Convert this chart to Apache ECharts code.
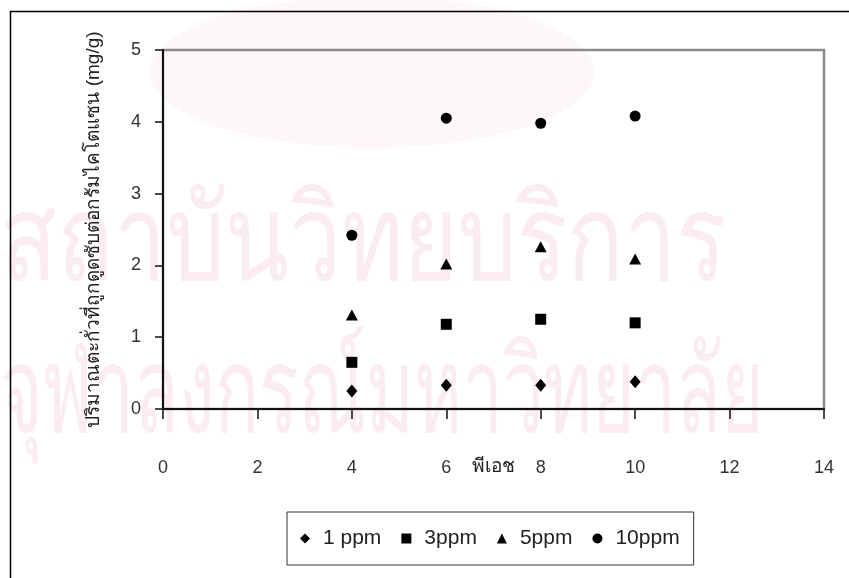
<!DOCTYPE html>
<html>
<head>
<meta charset="utf-8">
<script src="https://cdn.jsdelivr.net/npm/echarts@6/dist/echarts.min.js"></script>
<style>
  html, body { margin: 0; padding: 0; background: #fff; }
  #chart { width: 849px; height: 578px; }
</style>
</head>
<body>
<div id="chart"></div>
<script>
// pH of the solution and lead uptake (mg per g chitosan) at each initial concentration
const phValues = [4, 6, 8, 10];
const ppm1 = [0.25, 0.33, 0.33, 0.38];
const ppm3 = [0.65, 1.18, 1.25, 1.20];
const ppm5 = [1.31, 2.02, 2.26, 2.09];
const ppm10 = [2.42, 4.05, 3.98, 4.08];
const seriesNames = ['1 ppm', '3ppm', '5ppm', '10ppm'];

const FONT = "'Liberation Sans', 'Noto Sans', Arial, sans-serif";

const pairs = ys => phValues.map((x, i) => [x, ys[i]]);

const markerDefs = [
  { data: ppm1, symbol: 'diamond', size: [11, 13] },
  { data: ppm3, symbol: 'rect', size: 11 },
  { data: ppm5, symbol: 'triangle', size: [12, 11] },
  { data: ppm10, symbol: 'circle', size: 11 }
];

const chart = echarts.init(document.getElementById('chart'), null, { renderer: 'canvas' });

chart.setOption({
  backgroundColor: '#ffffff',
  animation: false,
  textStyle: { fontFamily: FONT },
  graphic: [
    // faint crest and institutional text behind the plot
    { type: 'ellipse', z: -20, shape: { cx: 372, cy: 72, rx: 222, ry: 76 },
      style: { fill: '#fdf8f7' } },
    { type: 'text', z: -19, x: 0, y: 186, scaleX: 0.78,
      style: { text: 'สถาบันวิทยบริการ', font: "120px 'Noto Sans', sans-serif", fill: '#fbecf1' } },
    { type: 'text', z: -19, x: 0, y: 338, scaleX: 0.61,
      style: { text: 'จุฬาลงกรณ์มหาวิทยาลัย', font: "120px 'Noto Sans', sans-serif", fill: '#fbecf1' } },
    // outer frame of the figure
    { type: 'rect', z: 5, shape: { x: 10.5, y: 11.5, width: 900, height: 700 },
      style: { fill: 'none', stroke: '#000', lineWidth: 1.5 } }
  ],
  grid: {
    left: 163, top: 50, right: 25, bottom: 169,
    show: true, borderColor: '#8a8a8a', borderWidth: 2.5, backgroundColor: 'transparent'
  },
  legend: {
    data: seriesNames,
    left: 287, top: 512,
    orient: 'horizontal',
    backgroundColor: '#fff',
    borderColor: '#333', borderWidth: 1,
    padding: [16, 14, 16, 13],
    itemGap: 20,
    itemWidth: 10, itemHeight: 10,
    textStyle: { fontSize: 21, color: '#222', fontFamily: FONT, padding: [0, 0, 0, 8] }
  },
  xAxis: {
    type: 'value',
    min: 0, max: 14, interval: 2,
    name: 'พีเอช',
    nameLocation: 'middle',
    nameGap: 48,
    nameMoveOverlap: false,
    nameTextStyle: { fontSize: 19, color: '#222', fontFamily: FONT },
    axisLine: { show: true, onZero: false, lineStyle: { color: '#111', width: 2 } },
    axisTick: { show: true, inside: false, length: 10, lineStyle: { color: '#111', width: 1.5 } },
    axisLabel: { fontSize: 18, color: '#333', margin: 50 },
    splitLine: { show: false }
  },
  yAxis: {
    type: 'value',
    min: 0, max: 5, interval: 1,
    name: 'ปริมาณตะกั่วที่ถูกดูดซับต่อกรัมไคโตแซน (mg/g)',
    nameLocation: 'middle',
    nameGap: 60,
    nameRotate: 90,
    nameMoveOverlap: false,
    nameTextStyle: { fontSize: 19, color: '#222', fontFamily: FONT },
    axisLine: { show: true, onZero: false, lineStyle: { color: '#111', width: 2 } },
    axisTick: { show: true, inside: false, length: 8, lineStyle: { color: '#111', width: 1.5 } },
    axisLabel: { fontSize: 18, color: '#333', margin: 22 },
    splitLine: { show: false }
  },
  series: markerDefs.map((m, i) => ({
    name: seriesNames[i],
    type: 'scatter',
    data: pairs(m.data),
    symbol: m.symbol,
    symbolSize: m.size,
    itemStyle: { color: '#000', opacity: 1 },
    z: 10
  }))
});
</script>
</body>
</html>
